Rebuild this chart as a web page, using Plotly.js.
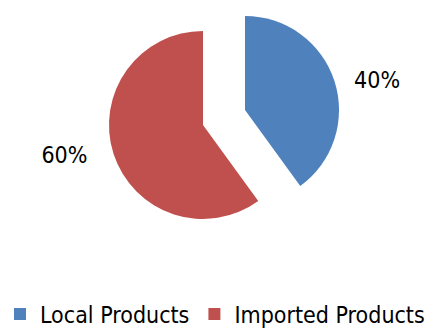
<!DOCTYPE html>
<html>
<head>
<meta charset="utf-8">
<script src="https://cdn.plot.ly/plotly-3.0.1.min.js"></script>
<style>html,body{margin:0;padding:0;background:#fff;}#chart{width:440px;height:329px;}</style>
</head>
<body>
<div id="chart"></div>
<script>
var categories = ['Local Products', 'Imported Products'];
var shares = [40, 60];
var sliceColors = ['#4F81BD', '#C0504D'];
var clear = 'rgba(0,0,0,0)';
var FONT = '"DejaVu Sans Condensed", "Liberation Sans Narrow", Arial, sans-serif';
var NB = '\u00a0';

var common = {
  type: 'pie',
  labels: categories,
  values: shares,
  sort: false,
  direction: 'clockwise',
  rotation: 0,
  textposition: 'outside',
  outsidetextfont: {family: FONT, size: 23, color: '#000'},
  hoverinfo: 'none',
  showlegend: false
};

// Imported Products slice (not pulled)
var traceImported = Object.assign({}, common, {
  marker: {colors: [clear, sliceColors[1]], line: {width: 0}},
  texttemplate: ['', '%{percent}' + NB + NB + NB],
  domain: {x: [0.2477, 0.675], y: [0.3343, 0.9058]}
});
// Local Products slice (exploded)
var traceLocal = Object.assign({}, common, {
  marker: {colors: [sliceColors[0], clear], line: {width: 0}},
  texttemplate: [NB + NB + '%{percent}', ''],
  domain: {x: [0.3432, 0.7705], y: [0.3799, 0.9514]}
});
// legend carrier
var traceLegend = Object.assign({}, common, {
  marker: {colors: sliceColors, line: {width: 0}},
  textinfo: 'none',
  texttemplate: '',
  showlegend: true,
  domain: {x: [0, 0.0005], y: [0.999, 1]}
});

var layout = {
  width: 440, height: 329,
  margin: {l: 0, r: 0, t: 0, b: 0, autoexpand: false},
  paper_bgcolor: '#fff',
  showlegend: true,
  legend: {
    orientation: 'h', x: 0, xanchor: 'left', y: -0.02, yanchor: 'bottom',
    font: {family: FONT, size: 23, color: '#000'},
    itemwidth: 30
  }
};

Plotly.newPlot('chart', [traceImported, traceLocal, traceLegend], layout, {staticPlot: true});
</script>
</body>
</html>
